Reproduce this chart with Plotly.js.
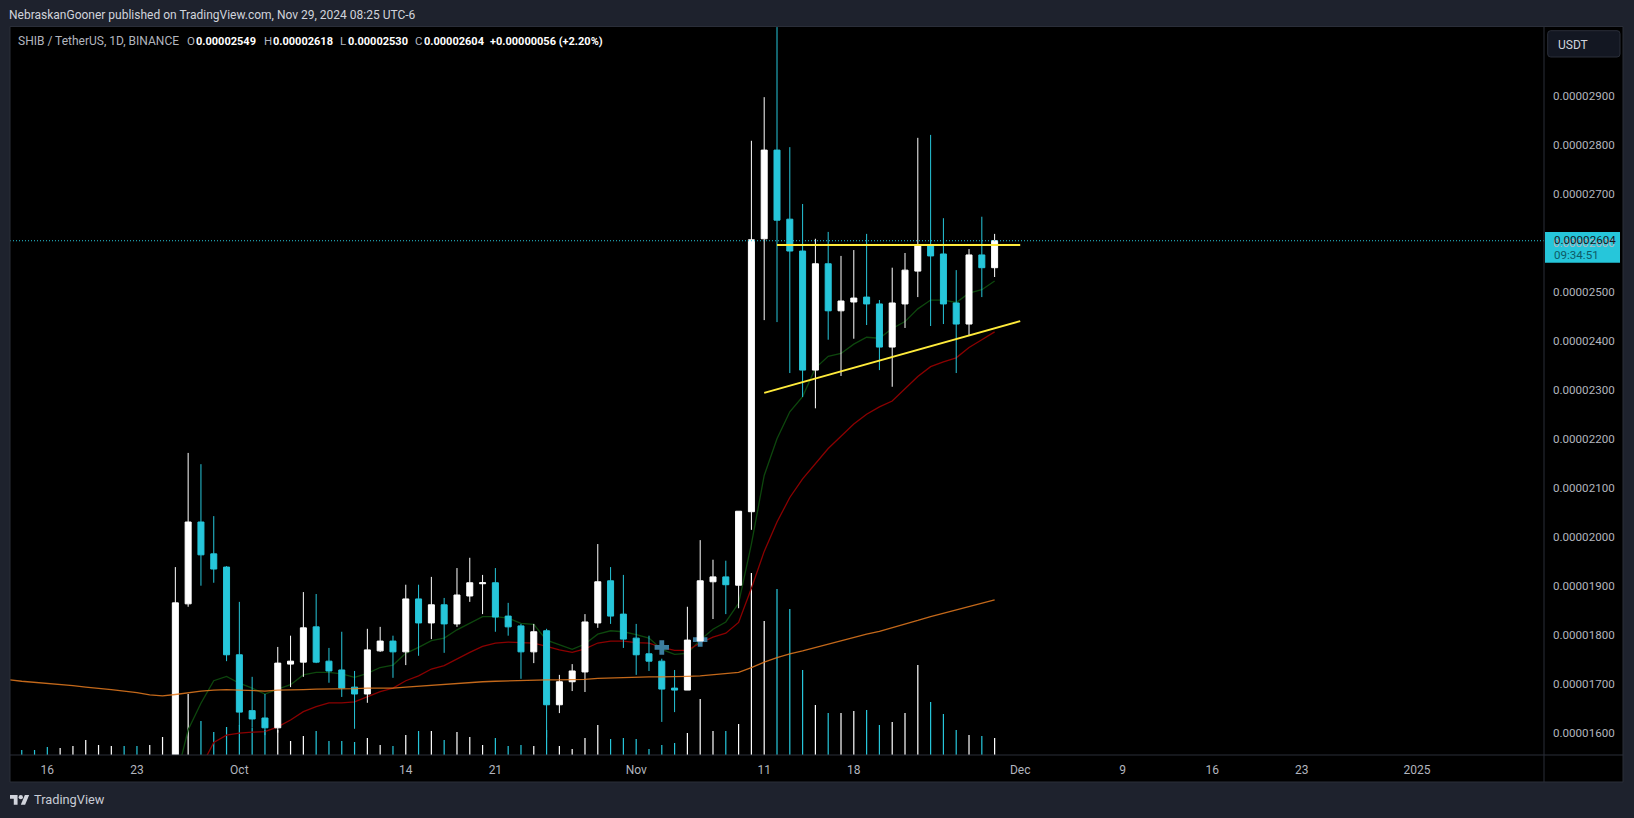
<!DOCTYPE html>
<html><head><meta charset="utf-8">
<script src="https://cdn.plot.ly/plotly-3.0.1.min.js"></script>
<style>html,body{margin:0;padding:0;background:#1e222d;overflow:hidden}</style>
</head><body><div id="chart" style="width:1634px;height:818px"></div>
<script>
const days=['2024-09-12','2024-09-13','2024-09-14','2024-09-15','2024-09-16','2024-09-17','2024-09-18','2024-09-19','2024-09-20','2024-09-21','2024-09-22','2024-09-23','2024-09-24','2024-09-25','2024-09-26','2024-09-27','2024-09-28','2024-09-29','2024-09-30',
'2024-10-01','2024-10-02','2024-10-03','2024-10-04','2024-10-05','2024-10-06','2024-10-07','2024-10-08','2024-10-09','2024-10-10','2024-10-11','2024-10-12','2024-10-13','2024-10-14','2024-10-15','2024-10-16','2024-10-17','2024-10-18','2024-10-19','2024-10-20','2024-10-21','2024-10-22','2024-10-23','2024-10-24','2024-10-25','2024-10-26','2024-10-27','2024-10-28','2024-10-29','2024-10-30','2024-10-31',
'2024-11-01','2024-11-02','2024-11-03','2024-11-04','2024-11-05','2024-11-06','2024-11-07','2024-11-08','2024-11-09','2024-11-10','2024-11-11','2024-11-12','2024-11-13','2024-11-14','2024-11-15','2024-11-16','2024-11-17','2024-11-18','2024-11-19','2024-11-20','2024-11-21','2024-11-22','2024-11-23','2024-11-24','2024-11-25','2024-11-26','2024-11-27','2024-11-28','2024-11-29'];
// prices in units of 0.00000001 USDT; candles start 2024-09-26
const opens=[1500,1863,2030,1965,1938,1759,1645,1630,1610,1740,1744,1816,1746,1728,1693,1679,1767,1787,1765,1873,1824,1861,1822,1879,1904,1906,1838,1818,1765,1808,1657,1704,1724,1824,1910,1842,1793,1761,1746,1691,1687,1787,1908,1918,1901,2051,2608,2789,2648,2583,2340,2557,2461,2479,2489,2475,2387,2475,2542,2596,2577,2477,2434,2575,2549];
const highs=[1938,2171,2148,2042,1940,1867,1714,1679,1775,1798,1887,1883,1773,1806,1726,1812,1816,1798,1902,1902,1918,1875,1936,1957,1922,1936,1865,1822,1822,1812,1718,1740,1842,1985,1938,1922,1822,1798,1751,1728,1857,1993,1953,1951,2052,2808,2897,3040,2795,2679,2608,2622,2573,2585,2618,2483,2549,2579,2814,2820,2650,2544,2587,2653,2618];
const lows=[1480,1857,1900,1906,1746,1615,1610,1595,1600,1693,1714,1742,1702,1673,1608,1661,1765,1712,1738,1757,1791,1763,1816,1867,1842,1806,1798,1710,1742,1590,1640,1685,1683,1814,1822,1773,1718,1726,1622,1642,1687,1787,1832,1842,1854,2014,2442,2438,2334,2285,2262,2402,2328,2404,2432,2340,2306,2426,2489,2430,2434,2334,2410,2489,2530];
const closes=[1865,2030,1963,1934,1759,1642,1628,1610,1742,1746,1814,1744,1726,1691,1679,1769,1787,1765,1873,1824,1861,1822,1881,1906,1906,1836,1816,1765,1806,1657,1704,1726,1826,1908,1838,1791,1759,1746,1689,1687,1789,1910,1918,1902,2052,2606,2789,2646,2583,2340,2557,2461,2481,2487,2475,2387,2477,2544,2596,2573,2475,2434,2575,2549,2604];
// slow average, from 2024-09-12
const slowLine=[1709,1708,1705,1703,1701,1698,1696,1693,1691,1688,1685,1682,1677,1675,1678,1682,1685,1687,1688,1687,1686,1685,1687,1687,1688,1689,1689,1689,1690,1691,1691,1691,1693,1695,1696,1698,1700,1702,1704,1705,1706,1707,1708,1708,1708,1708,1709,1711,1712,1713,1714,1714,1714,1714,1715,1716,1718,1720,1723,1733,1744,1753,1761,1767,1774,1781,1787,1795,1801,1807,1814,1822,1829,1837,1844,1850,1858,1864,1871];
// fast average, from 2024-09-26
const fastLine=[1500,1606,1660,1706,1715,1701,1691,1679,1689,1698,1718,1723,1723,1720,1713,1721,1733,1738,1762,1774,1788,1793,1810,1823,1837,1837,1834,1823,1821,1789,1779,1770,1781,1801,1808,1806,1800,1793,1770,1760,1762,1789,1811,1826,1864,1985,2125,2200,2255,2286,2344,2368,2374,2393,2407,2405,2425,2439,2465,2483,2483,2478,2497,2504,2522];
// middle average, from 2024-09-28
const midLine=[1530,1580,1595,1599,1601,1602,1612,1626,1643,1653,1661,1661,1663,1673,1684,1691,1706,1716,1730,1737,1751,1764,1776,1783,1785,1784,1783,1776,1769,1764,1771,1783,1787,1787,1784,1783,1774,1768,1768,1783,1795,1803,1825,1895,1970,2030,2080,2118,2150,2180,2205,2230,2250,2265,2277,2303,2327,2347,2357,2365,2386,2402,2418];
// volume (relative units), from 2024-09-14
const volumes=[5,5,8,7,9,15,10,9,9,9,10,18,30,61,34,23,28,30,27,25,25,14,19,24,14,14,13,17,10,9,20,24,24,15,23,18,10,17,9,10,9,25,9,6,17,30,16,17,16,6,10,12,22,56,24,24,31,182,134,166,146,85,50,42,42,44,45,30,33,42,90,53,41,25,20,19,17];
const earlyVolumeUp=[0,0,0,1,1,1,1,1,0,0,1,1];
const priceTicks=[1600,1700,1800,1900,2000,2100,2200,2300,2400,2500,2600,2700,2800,2900];
const timeTickDates=['2024-09-16','2024-09-23','2024-10-01','2024-10-14','2024-10-21','2024-11-01','2024-11-11','2024-11-18','2024-12-01','2024-12-09','2024-12-16','2024-12-23','2025-01-01'];
const timeTickLabels=['16','23','Oct','14','21','Nov','11','18','Dec','9','16','23','2025'];
const lastPrice=2604;
const flatTrendDates=['2024-11-12','2024-12-01'], flatTrendPrices=[2595.5,2595.5];
const riseTrendDates=['2024-11-11','2024-12-01'], riseTrendPrices=[2293.6,2440];
const markDates=['2024-11-03','2024-11-06'], markPrices=[1774,1790];

const UP='#ffffff', DOWN='#26c6da', PANEL='#000000', BG='#1e222d', EDGE='#2a2e39', TICK='#b2b5be';
const priceRange=[1554.5,3040.2], xRange=['2024-09-13 02:00','2025-01-10 22:00'];
const L=10,R=1544,T=27,B=755;
const fx=x=>(x-L)/(R-L), fy=y=>(B-y)/(B-T);
const sliceFrom=n=>days.slice(n);
const vColors=earlyVolumeUp.map(u=>u?UP:DOWN).concat(closes.map((c,i)=>c>=opens[i]?UP:DOWN));
const candleDays=sliceFrom(14);

const rect=(x0,y0,x1,y1,fill,line)=>({type:'rect',xref:'paper',yref:'paper',x0:fx(x0),x1:fx(x1),y0:fy(y0),y1:fy(y1),fillcolor:fill,line:{color:line||fill,width:line?1:0},layer:'below'});
const hline=(x0,x1,y)=>({type:'line',xref:'paper',yref:'paper',x0:fx(x0),x1:fx(x1),y0:fy(y),y1:fy(y),line:{color:EDGE,width:1},layer:'above'});
const vline=(x,y0,y1)=>({type:'line',xref:'paper',yref:'paper',x0:fx(x),x1:fx(x),y0:fy(y0),y1:fy(y1),line:{color:EDGE,width:1},layer:'above'});
const P=(pts)=>pts.map((p,i)=>(i?'L':'M')+fx(p[0]).toFixed(6)+','+fy(p[1]).toFixed(6)).join(' ')+' Z';
function roundRect(x0,y0,x1,y1,r){const a=fx,b=fy;
 return `M${a(x0+r)},${b(y0)} L${a(x1-r)},${b(y0)} Q${a(x1)},${b(y0)} ${a(x1)},${b(y0+r)} L${a(x1)},${b(y1-r)} Q${a(x1)},${b(y1)} ${a(x1-r)},${b(y1)} L${a(x0+r)},${b(y1)} Q${a(x0)},${b(y1)} ${a(x0)},${b(y1-r)} L${a(x0)},${b(y0+r)} Q${a(x0)},${b(y0)} ${a(x0+r)},${b(y0)} Z`;}
const logo=c=>({type:'path',xref:'paper',yref:'paper',path:P(c),fillcolor:'#d1d4dc',line:{width:0},layer:'above'});
const lx=v=>10+v*0.54, ly=v=>795+(v-4)*0.54;

const shapes=[
 rect(1544,T-1,1623,782,PANEL),
 rect(10,755,1544,782,PANEL),
 rect(1545,232,1620,262.7,DOWN),
 {type:'path',xref:'paper',yref:'paper',path:roundRect(1547.7,30.7,1620,57,3),fillcolor:'#131722',line:{color:EDGE,width:1},layer:'above'},
 hline(10,1623,26.5),hline(10,1623,755),hline(10,1623,782),
 vline(10,26.5,782),vline(1544,26.5,782),vline(1623,26.5,782),
 logo([[lx(0),ly(4)],[lx(14),ly(4)],[lx(14),ly(22)],[lx(7),ly(22)],[lx(7),ly(11)],[lx(0),ly(11)]]),
 logo([[lx(27.5),ly(4)],[lx(35.5),ly(4)],[lx(28),ly(22)],[lx(20),ly(22)]]),
 {type:'circle',xref:'paper',yref:'paper',x0:fx(lx(16)),x1:fx(lx(24)),y0:fy(ly(4)),y1:fy(ly(12)),fillcolor:'#d1d4dc',line:{width:0},layer:'above'}
];
const F='Roboto, sans-serif';
const note=(x,y,text,size,color,extra)=>Object.assign({xref:'paper',yref:'paper',x:fx(x),y:fy(y),text,showarrow:false,xanchor:'left',yanchor:'middle',borderpad:0,font:{family:F,size,color}},extra||{});
const annotations=[
 note(8,15,'NebraskanGooner published on TradingView.com, Nov 29, 2024 08:25 UTC-6',12,'#d1d4dc'),
 note(17,41,'SHIB / TetherUS, 1D, BINANCE',12,TICK),
 note(186,41,'O',11.5,TICK), note(195,41,'<b>0.00002549</b>',11,'#ffffff'),
 note(263,41,'H',11.5,TICK), note(272,41,'<b>0.00002618</b>',11,'#ffffff'),
 note(339,41,'L',11.5,TICK), note(347,41,'<b>0.00002530</b>',11,'#ffffff'),
 note(414,41,'C',11.5,TICK), note(423,41,'<b>0.00002604</b>',11,'#ffffff'),
 note(489,41,'<b>+0.00000056 (+2.20%)</b>',11,'#ffffff'),
 note(1557,44.5,'USDT',12,'#d1d4dc'),
 note(1553,240.5,'0.00002604',11.6,'#131722'),
 note(1553,254.5,'09:34:51',11.6,'#0e5a66'),
 note(33,799.5,'TradingView',12.8,'#c8ccd6')
];

const data=[
 {type:'bar',x:sliceFrom(2),y:volumes,xaxis:'x',yaxis:'y',width:8.2e6,marker:{color:vColors,line:{width:0}},hoverinfo:'skip'},
 {type:'scatter',mode:'lines',x:sliceFrom(14),y:fastLine,xaxis:'x',yaxis:'y2',line:{color:'#0d470d',width:1.3},hoverinfo:'skip'},
 {type:'scatter',mode:'lines',x:sliceFrom(16),y:midLine,xaxis:'x',yaxis:'y2',line:{color:'#8b0000',width:1.3},hoverinfo:'skip'},
 {type:'scatter',mode:'markers',x:markDates,y:markPrices,xaxis:'x',yaxis:'y2',marker:{symbol:'cross',size:12,color:'#3c7d9e',line:{width:0}},hoverinfo:'skip'},
 {type:'candlestick',x:candleDays,open:opens,high:highs,low:lows,close:closes,xaxis:'x',yaxis:'y3',whiskerwidth:0,
  increasing:{line:{color:UP,width:1},fillcolor:UP},decreasing:{line:{color:DOWN,width:1},fillcolor:DOWN}},
 {type:'scatter',mode:'lines',x:days,y:slowLine,xaxis:'x',yaxis:'y4',line:{color:'#e57a1f',width:1.3},opacity:0.85,hoverinfo:'skip'},
 {type:'scatter',mode:'lines',x:xRange,y:[lastPrice,lastPrice],xaxis:'x',yaxis:'y4',line:{color:DOWN,width:1,dash:'1px 2px'},hoverinfo:'skip'},
 {type:'scatter',mode:'lines',x:flatTrendDates,y:flatTrendPrices,xaxis:'x',yaxis:'y4',line:{color:'#ffeb3b',width:2},hoverinfo:'skip'},
 {type:'scatter',mode:'lines',x:riseTrendDates,y:riseTrendPrices,xaxis:'x',yaxis:'y4',line:{color:'#ffeb3b',width:2},hoverinfo:'skip'}
];
const hiddenPrice=(extra)=>Object.assign({range:priceRange,showgrid:false,zeroline:false,showticklabels:false,ticks:'',fixedrange:true,showline:false},extra||{});
const layout={
 width:1634,height:818,margin:{l:L,r:1634-R,t:T,b:818-B,pad:0},
 paper_bgcolor:BG,plot_bgcolor:PANEL,showlegend:false,dragmode:false,hovermode:false,boxgap:0.33,
 font:{family:F,color:TICK},
 xaxis:{type:'date',range:xRange,rangeslider:{visible:false},showgrid:false,zeroline:false,showline:false,ticks:'',tickmode:'array',tickvals:timeTickDates,ticktext:timeTickLabels,tickfont:{family:F,size:12,color:TICK},ticklabelstandoff:6,fixedrange:true},
 yaxis:{range:[0,728],showgrid:false,zeroline:false,showticklabels:false,ticks:'',fixedrange:true},
 yaxis2:hiddenPrice({overlaying:'y',side:'right',showticklabels:true,tickmode:'array',tickvals:priceTicks,ticktext:priceTicks.map(v=>(v/1e8).toFixed(8)),tickfont:{family:F,size:11.6,color:TICK},ticklabelstandoff:8}),
 yaxis3:hiddenPrice({overlaying:'y',side:'right'}),
 yaxis4:hiddenPrice({overlaying:'y',side:'right'}),
 shapes,annotations
};
Plotly.newPlot('chart',data,layout,{displayModeBar:false,staticPlot:true});
</script></body></html>
